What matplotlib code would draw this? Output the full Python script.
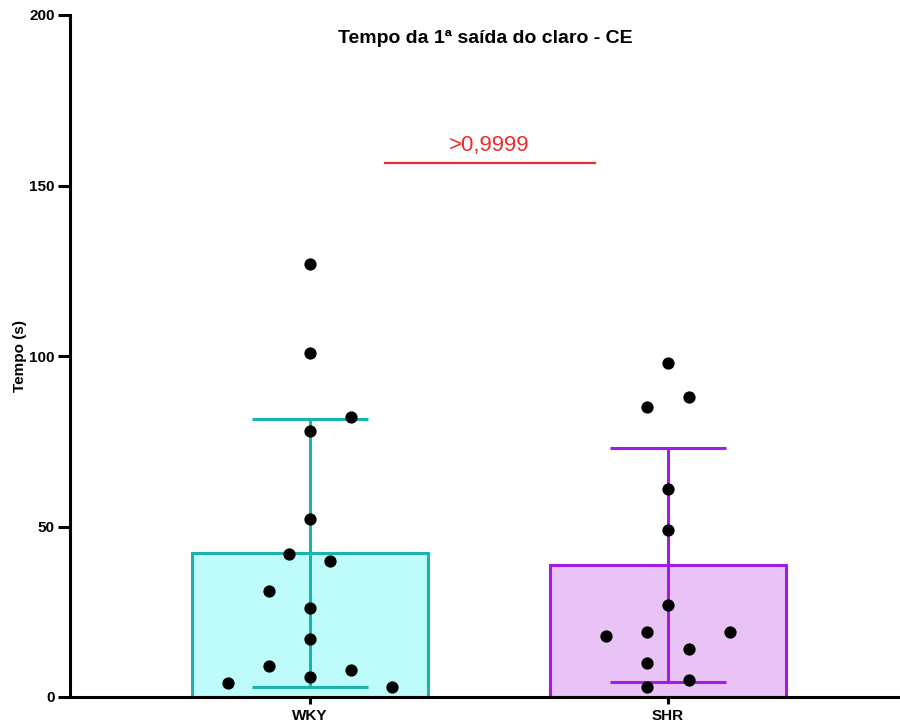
import matplotlib
matplotlib.use("Agg")
import matplotlib.pyplot as plt
import numpy as np

plt.rcParams['font.family'] = ['Liberation Sans', 'DejaVu Sans']

# Groups and summary values
groups = ["WKY", "SHR"]
means = [42.2, 38.7]
sds = [39.3, 34.3]

# Individual animals
wky_values = [127.0, 101.0, 82.2, 78.0, 52.1, 41.9, 40.0, 31.1, 26.0, 17.0, 9.1, 7.9, 6.0, 4.0, 3.0]
wky_offsets = [0, 0, 2, 0, 0, -1, 1, -2, 0, 0, -2, 2, 0, -4, 4]
shr_values = [98.0, 88.0, 85.0, 61.0, 49.0, 27.0, 18.0, 19.0, 19.0, 14.0, 10.1, 5.0, 3.0]
shr_offsets = [0, 1, -1, 0, 0, 0, -3, -1, 3, 1, -1, 1, -1]

p_label = ">0,9999"
p_height = 156.6

edge_colors = ["#1AB3AD", "#A41AE6"]
fill_colors = ["#BEFCFC", "#E9C3F5"]

fig = plt.figure(figsize=(9, 7.28), dpi=100)
ax = fig.add_axes([70 / 900, 31 / 728, 830 / 900, 682 / 728])

x = np.arange(len(groups))
bar_w = 0.66
jitter = 0.0575

for i in range(len(groups)):
    ax.bar(x[i], means[i], width=bar_w, color=fill_colors[i],
           edgecolor=edge_colors[i], linewidth=2.2, zorder=1)
    ax.errorbar(x[i], means[i], yerr=sds[i], color=edge_colors[i],
                elinewidth=2.2, capsize=42, capthick=2.2, fmt='none', zorder=2)

for i, (vals, offs) in enumerate([(wky_values, wky_offsets), (shr_values, shr_offsets)]):
    xs = x[i] + np.array(offs) * jitter
    ax.scatter(xs, vals, s=78, color="black", zorder=3, linewidths=0)

# Comparison bar
ax.plot([x[0] + 0.21, x[1] - 0.205], [p_height, p_height], color="#EE2C2C", lw=1.6)
ax.text((x[0] + x[1]) / 2, p_height + 2, p_label, color="#EE2C2C",
        ha="center", va="bottom", fontsize=16)

ax.set_xlim(-0.67, 1.648)
ax.set_ylim(0, 200)
ax.set_yticks([0, 50, 100, 150, 200])
ax.set_xticks(x)
ax.set_xticklabels(groups, fontweight="bold", fontsize=11)
for lbl in ax.get_yticklabels():
    lbl.set_fontweight("bold")
    lbl.set_fontsize(11)

ax.spines['top'].set_visible(False)
ax.spines['right'].set_visible(False)
ax.spines['left'].set_linewidth(2.2)
ax.spines['bottom'].set_linewidth(2.2)
ax.tick_params(axis='y', length=9, width=2.2, pad=2)
ax.tick_params(axis='x', length=5, width=2.2, pad=4)

ax.set_ylabel("Tempo (s)", fontweight="bold", fontsize=11)
ax.yaxis.set_label_coords(-0.052, 0.5)
ax.set_title("Tempo da 1ª saída do claro - CE", fontweight="bold", fontsize=14, y=0.947)

fig.savefig("out.png", dpi=100)
